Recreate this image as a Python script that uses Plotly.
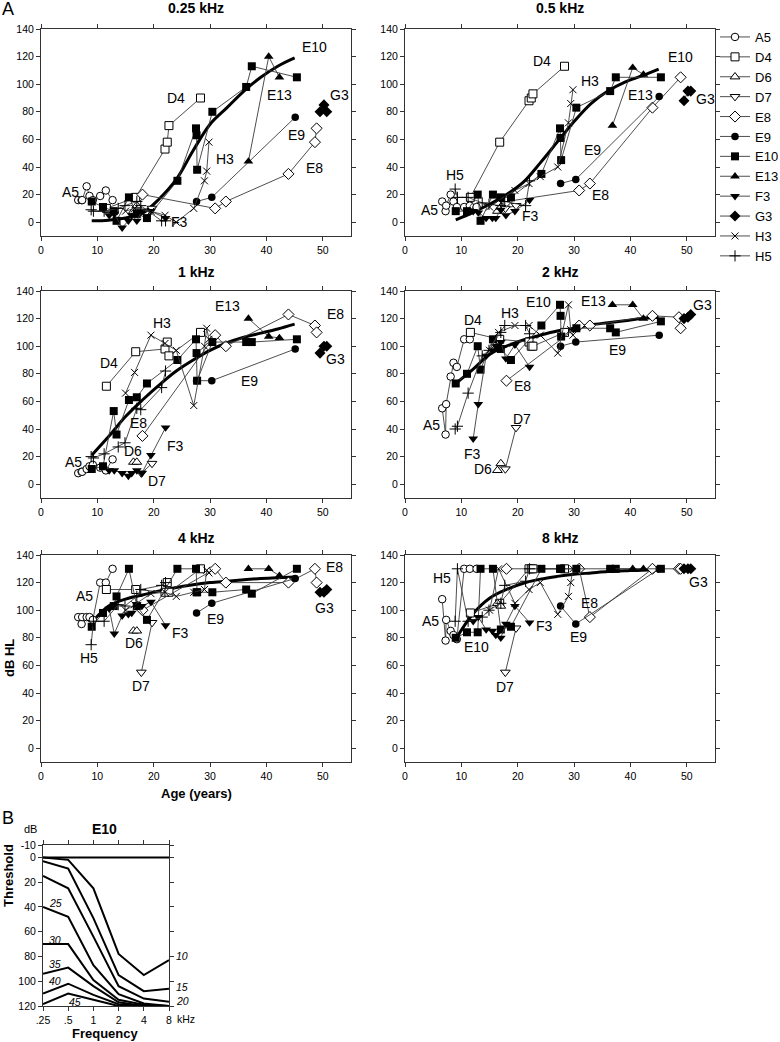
import math
import plotly.graph_objects as go

# ---------------- data ----------------
FREQ_TITLES = ["0.25 kHz", "0.5 kHz", "1 kHz", "2 kHz", "4 kHz", "8 kHz"]
SUBJECTS = ["A5", "D4", "D6", "D7", "E8", "E9", "E10", "E13", "F3", "G3", "H3", "H5"]

# ages (years) and thresholds (dB HL); rows = 0.25, 0.5, 1, 2, 4, 8 kHz
A5_age = [6.6, 7.2, 7.3, 8.1, 8.6, 9.2, 10.5, 11.5, 12.7]
A5_hl = [
    [16, 16, 16, 26, 19, 16, 19, 23, 16],
    [15, 8, 12, 20, 15, 11, 11, 12, 11],
    [8, 9, 9, 11, 13, 14, 12, 10, 18],
    [55, 36, 58, 78, 88, 85, 105, 105, None],
    [95, 90, 95, 95, 95, 93, 120, 120, 130],
    [108, 78, 93, 85, 82, 79, 130, 130, 130],
]
D4_age = [11.6, 16.8, 22.0, 22.4, 22.7, 28.3]
D4_hl = [
    [10, 18, 53, 58, 70, 90],
    [18, 58, 88, 90, 93, 113],
    [71, 96, 98, 103, 93, 110],
    [110, 105, 103, 100, 100, 110],
    [115, 115, 113, 120, 113, 130],
    [98, 105, 130, 130, 130, 130],
]
D6_age = [16.4, 17.0]
D6_hl = [[8, 12], [8, 11], [16, 16], [10, 15], [85, 85], [105, 103]]
D7_age = [17.8, 19.7]
D7_hl = [[8, 10], [10, 12], [8, 15], [11, 41], [55, 91], [55, 87]]
E8_age = [18.0, 30.9, 32.8, 43.9, 48.6, 48.9]
E8_hl = [
    [20, 10, 15, 35, 58, 68],
    [15, 23, 28, 83, None, 105],
    [35, 108, 100, 123, 115, 110],
    [75, 115, 115, 122, 121, 113],
    [100, 130, 120, 120, 130, 120],
    [130, 130, 95, 130, 130, 130],
]
E9_age = [27.6, 30.3, 45.1]
E9_hl = [[15, 18, 76], [28, 31, 91], [75, 75, 98], [100, 103, 108], [98, 105, 123], [103, 90, 130]]
E10_age = [9.0, 11.0, 12.9, 13.4, 15.6, 17.0, 18.8, 24.2, 27.5, 27.6, 27.7, 30.4, 36.4, 37.4, 45.4]
E10_hl = [
    [15, 11, 8, 1, 18, 6, 3, 30, 68, 63, 38, 80, 98, 113, 105],
    [8, 8, 20, 1, 20, 18, 18, 35, 68, 61, 45, 83, 95, 105, 105],
    [11, 13, 53, 36, 61, 63, 73, 90, 105, 95, 75, 103, 103, 103, 105],
    [73, 80, 100, 83, 105, 98, 90, 115, 130, 122, 107, 113, 113, 110, 118],
    [88, 98, 103, 110, 130, 103, 93, 130, 130, 113, 113, 113, 115, 112, 130],
    [80, 84, 84, 130, 130, 86, 88, 130, 130, 130, 130, 130, 130, 130, 130],
]
E13_age = [36.8, 40.4, 42.3]
E13_hl = [[44, 120, 105], [70, 112, 107], [120, 107, 106], [130, 130, 120], [130, 130, 125], [130, 130, 130]]
F3_age = [12.1, 13.0, 14.4, 15.5, 16.1, 17.0, 17.9, 19.5, 22.1]
F3_hl = [
    [5, 6, -4, 1, 5, 1, 8, 8, 3],
    [8, 7, 3, 3, 3, 9, 5, 8, 16],
    [10, 10, 8, 6, 8, 10, 8, 21, 41],
    [33, 58, 93, 97, 100, 103, 91, 101, 85],
    [101, 83, 96, 97, 98, 104, 103, 106, 89],
    [92, 95, 86, 85, 82, 80, 90, 103, 91],
]
G3_age = [49.5, 50.2, 50.7]
G3_hl = [[80, 85, 80], [88, 95, 95], [95, 100, 100], [120, 121, 123], [113, 113, 115], [130, 130, 130]]
H3_age = [15.0, 16.6, 19.5, 22.0, 24.0, 27.1, 29.0, 29.4, 29.8]
H3_hl = [
    [8, 10, 8, 5, 0, 10, 30, 37, 58],
    [11, 16, 23, 28, 33, 40, 72, 86, 96],
    [66, 81, 108, 102, 97, 57, 100, 113, 105],
    [97, 110, 115, 115, 108, 95, 130, 112, 108],
    [100, 104, 112, 113, 110, 113, 115, 129, 127],
    [100, 130, 105, 115, 120, 97, 110, 120, 130],
]
H5_age = [8.9, 9.3, 11.2, 13.7, 14.9, 17.0, 17.7, 21.4, 22.1]
H5_hl = [
    [9, 8, 8, 10, 12, 15, 12, 1, 1],
    [24, 18, 18, 14, 13, 12, 15, 12, 30],
    [20, 19, 22, 27, 30, 55, 54, 70, 82],
    [40, 42, 66, 93, 97, 110, 115, 115, 109],
    [75, 92, 92, 104, 103, 110, 115, 118, 120],
    [92, 130, 92, 95, 100, 105, 118, 121, 130],
]

# fitted regression curves (thick lines)
FIT_AGE = [9, 12, 15, 18, 21, 24, 27, 30, 33, 36, 39, 42, 45]
FIT_025 = [1, 1.5, 3, 6.5, 17, 31, 52, 71, 83, 95, 105, 113, 119]
FIT_05 = [1.7, 7, 13, 20, 29, 43, 58, 73, 86, 95, 101.5, 106, 111]
FIT_1 = [21, 34.5, 49, 61, 72, 82, 90, 97, 102.5, 106.5, 109.5, 112.5, 116]
FIT_2 = [73, 83, 94, 100, 104.5, 108, 111, 113, 115.5, 117, 118.5, 120, 121]
FIT_4 = [91, 103, 108, 111, 114, 116.5, 118.5, 120, 121, 122, 123, 123.5, 124]
FIT_8 = [79, 97, 108.6, 115, 119.5, 122.5, 124.5, 126, 127, 128, 128.5, 129, 129]

# panel B: model audiograms of E10 at different ages
PB_FREQ = [0.25, 0.5, 1, 2, 4, 8]
PB_AGE = [5, 10, 15, 20, 25, 30, 35, 40, 45]
PB_THR = [
    [0, 0, 0, 0, 0, 0],
    [0, 2, 25, 78, 95, 83],
    [3, 9, 49, 95, 108, 106],
    [15, 25, 64, 104, 114, 116.5],
    [40, 48, 87, 110.5, 118, 120],
    [70, 70, 99, 115, 119, 120],
    [94, 89, 104, 117, 120, 120],
    [110, 102, 111, 118.5, 120, 120],
    [118.5, 110, 115, 120, 120, 120],
]
PB_LABELS = ["10", "15", "20", "25", "30", "35", "40", "45"]

# text labels of subjects inside each panel: (text, age, dB)
LABELS = [
    [("E10", 48.5, 127), ("D4", 24, 90), ("E13", 42.3, 92), ("G3", 53, 92), ("E9", 45.4, 63),
     ("H3", 32.6, 46), ("E8", 48.5, 39), ("A5", 5.3, 22), ("F3", 24.6, 0)],
    [("D4", 24.3, 116.5), ("E10", 48.8, 120), ("H3", 32.8, 102), ("E13", 41.7, 92), ("G3", 53.3, 89),
     ("E9", 33.3, 52.5), ("E8", 34.6, 20), ("H5", 8.9, 34), ("A5", 4.3, 8.5), ("F3", 22.2, 4.6)],
    [("E13", 33.1, 129), ("E8", 52.3, 123), ("H3", 21.5, 116.6), ("D4", 12, 88), ("E9", 37, 75),
     ("G3", 52.3, 91), ("E8", 17.3, 44), ("F3", 23.8, 28), ("D6", 16.3, 24), ("A5", 5.7, 16.4),
     ("D7", 20.5, 2)],
    [("E10", 23.7, 132), ("E13", 33.4, 133), ("G3", 52.8, 130), ("H3", 18.6, 124), ("D4", 12.1, 119),
     ("E9", 37.7, 97), ("E8", 20.8, 71), ("D7", 20.7, 47), ("A5", 4.7, 43), ("F3", 12, 22),
     ("D6", 13.8, 11)],
    [("E8", 52, 131.5), ("A5", 7.8, 110.5), ("G3", 50.3, 101.6), ("E9", 31, 93.7), ("F3", 24.8, 83.5),
     ("D6", 16.5, 76), ("H5", 8.6, 65.4), ("D7", 17.8, 45)],
    [("H5", 6.5, 123.6), ("G3", 52.1, 120.7), ("E8", 32.8, 105), ("A5", 4.6, 92.2), ("F3", 24.7, 88.6),
     ("E10", 12.6, 73), ("E9", 30.8, 80.6), ("D7", 17.8, 44.4)],
]

# ---------------- styling ----------------
W, H = 780, 1042
FONT = "Arial, Liberation Sans, sans-serif"
OPEN = dict(color="white", line=dict(color="black", width=1))
FILL = dict(color="black", line=dict(color="black", width=0))
STYLE = {
    "A5": dict(symbol="circle", size=7.5, **OPEN),
    "D4": dict(symbol="square", size=8, **OPEN),
    "D6": dict(symbol="triangle-up", size=8.5, **OPEN),
    "D7": dict(symbol="triangle-down", size=8.5, **OPEN),
    "E8": dict(symbol="diamond", size=8.5, **OPEN),
    "E9": dict(symbol="circle", size=7.5, **FILL),
    "E10": dict(symbol="square", size=8, **FILL),
    "E13": dict(symbol="triangle-up", size=8.5, **FILL),
    "F3": dict(symbol="triangle-down", size=8.5, **FILL),
    "G3": dict(symbol="diamond", size=8.5, **FILL),
    "H3": dict(symbol="x-thin", size=7, color="black", line=dict(color="black", width=1)),
    "H5": dict(symbol="cross-thin", size=8, color="black", line=dict(color="black", width=1)),
}
DATA = {
    "A5": (A5_age, A5_hl), "D4": (D4_age, D4_hl), "D6": (D6_age, D6_hl), "D7": (D7_age, D7_hl),
    "E8": (E8_age, E8_hl), "E9": (E9_age, E9_hl), "E10": (E10_age, E10_hl), "E13": (E13_age, E13_hl),
    "F3": (F3_age, F3_hl), "G3": (G3_age, G3_hl), "H3": (H3_age, H3_hl), "H5": (H5_age, H5_hl),
}
FITS = [FIT_025, FIT_05, FIT_1, FIT_2, FIT_4, FIT_8]


def px_x(p):
    return p / W


def px_y(p):
    return 1 - p / H


def paper_text(text, x, y, size, angle=0, xanchor="center"):
    return dict(text=text, x=px_x(x), y=px_y(y), xref="paper", yref="paper", showarrow=False,
                xanchor=xanchor, yanchor="middle", textangle=angle,
                font=dict(size=size, family=FONT, color="black"))


COLS = [(41, 351), (405, 715)]
ROWS = [(29, 236), (291, 498), (555, 762)]
TITLE_Y = [8, 272, 538]

fig = go.Figure()
layout = dict(
    width=W, height=H, margin=dict(l=0, r=0, t=0, b=0, pad=0, autoexpand=False),
    paper_bgcolor="white", plot_bgcolor="white",
    font=dict(family=FONT, color="black", size=11),
    legend=dict(x=px_x(715), y=px_y(22), xanchor="left", yanchor="top",
                font=dict(size=13, family=FONT), itemwidth=30, tracegroupgap=0,
                bgcolor="rgba(0,0,0,0)", borderwidth=0),
    annotations=[],
)
ann = layout["annotations"]
AXSTYLE = dict(showline=True, linecolor="#333", linewidth=1, mirror="allticks",
               ticks="outside", ticklen=4, tickcolor="#333", showgrid=False,
               zeroline=False, automargin=False, tickfont=dict(size=10.5, family=FONT))

for i in range(6):
    n = i + 1
    xr = "x" if n == 1 else f"x{n}"
    yr = "y" if n == 1 else f"y{n}"
    col = COLS[i % 2]
    row = ROWS[i // 2]
    layout["xaxis" if n == 1 else f"xaxis{n}"] = dict(
        domain=[px_x(col[0]), px_x(col[1])], range=[0, 55], tick0=0, dtick=10,
        anchor=yr, **AXSTYLE)
    layout["yaxis" if n == 1 else f"yaxis{n}"] = dict(
        domain=[px_y(row[1]), px_y(row[0])], range=[-10, 140], tick0=0, dtick=20,
        anchor=xr, **AXSTYLE)

    fig.add_trace(go.Scatter(x=FIT_AGE, y=FITS[i], mode="lines",
                             line=dict(color="black", width=3, shape="spline"),
                             showlegend=False, hoverinfo="skip", xaxis=xr, yaxis=yr))
    for s in SUBJECTS:
        age, hl = DATA[s]
        fig.add_trace(go.Scatter(
            x=age, y=hl[i], mode="lines+markers", name=s, legendgroup=s, showlegend=(i == 0),
            connectgaps=True, line=dict(color="#3a3a3a", width=0.9), marker=STYLE[s],
            xaxis=xr, yaxis=yr))
    for (t, ax_, ay_) in LABELS[i]:
        ann.append(dict(text=t, x=ax_, y=ay_, xref=xr, yref=yr, showarrow=False,
                        xanchor="center", yanchor="middle",
                        font=dict(size=14, family=FONT, color="black")))
    ann.append(paper_text("<b>%s</b>" % FREQ_TITLES[i], (col[0] + col[1]) / 2, TITLE_Y[i // 2], 14))

# axis titles of panel A
ann.append(paper_text("<b>Age (years)</b>", 196, 793, 13))
ann.append(paper_text("<b>dB HL</b>", 9, 658, 13, angle=-90))
ann.append(paper_text("A", 8, 9, 18))

# ---------------- panel B ----------------
layout["xaxis7"] = dict(domain=[px_x(43), px_x(169)], type="log",
                        range=[math.log10(0.25), math.log10(8)],
                        tickvals=PB_FREQ, ticktext=[".25", ".5", "1", "2", "4", "8"],
                        anchor="y7", **AXSTYLE)
layout["yaxis7"] = dict(domain=[px_y(1006), px_y(845)], range=[120, -10],
                        tickvals=[-10, 0, 20, 40, 60, 80, 100, 120],
                        ticktext=["-10", "0", "20", "40", "60", "80", "100", "120"],
                        anchor="x7", **AXSTYLE)
for k, a in enumerate(PB_AGE):
    fig.add_trace(go.Scatter(x=PB_FREQ, y=PB_THR[k], mode="lines", line=dict(color="black", width=2),
                             showlegend=False, name=f"{a} y", xaxis="x7", yaxis="y7"))

lf = math.log10
pb_pos = [(lf(8), 80, "left", 5), (lf(8), 105, "left", 5), (lf(8), 116, "left", 5),
          (lf(0.35), 36.5, "center", 0), (lf(0.35), 66.5, "center", 0), (lf(0.35), 86, "center", 0),
          (lf(0.35), 100, "center", 0), (lf(0.6), 116.5, "center", 0)]
for t, (xx, yy, xa, xs) in zip(PB_LABELS, pb_pos):
    ann.append(dict(text="<i>%s</i>" % t, x=xx, y=yy, xref="x7", yref="y7", xanchor=xa, xshift=xs,
                    yanchor="middle", showarrow=False, font=dict(size=10.5, family=FONT, color="black")))

ann.append(paper_text("B", 8, 818, 18))
ann.append(paper_text("dB", 30, 829, 11))
ann.append(paper_text("<b>E10</b>", 104, 829, 14))
ann.append(paper_text("kHz", 175, 1019, 10.5, xanchor="left"))
ann.append(paper_text("<b>Frequency</b>", 106, 1033, 13))
ann.append(paper_text("<b>Threshold</b>", 8, 876, 13, angle=-90))

fig.update_layout(**layout)
fig.write_html("out.html", config={"displayModeBar": False},
               post_script="document.body.style.margin='0px';document.body.style.padding='0px';")
